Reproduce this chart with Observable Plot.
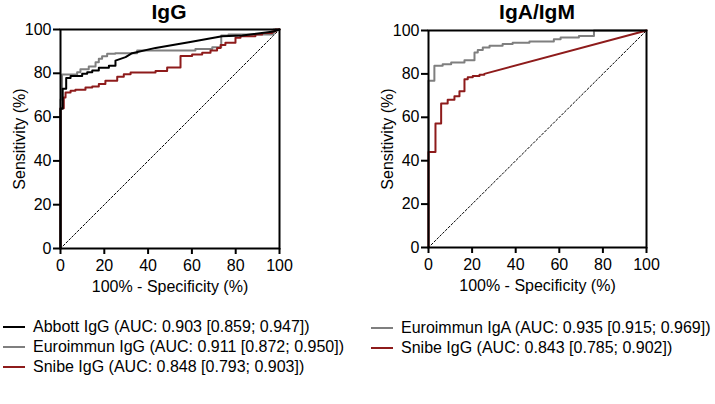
<!DOCTYPE html>
<html><head><meta charset="utf-8">
<script src="https://cdn.jsdelivr.net/npm/d3@7"></script>
<script src="https://cdn.jsdelivr.net/npm/@observablehq/plot@0.6"></script>
<style>
body{margin:0;background:#fff;font-family:"Liberation Sans",Arial,sans-serif;color:#000;}
#root{position:relative;width:715px;height:404px;overflow:hidden;background:#fff;}
.panel{position:absolute;top:0;}
.title{position:absolute;top:0;font-weight:bold;font-size:21px;line-height:24px;transform:translateX(-50%);white-space:nowrap;}
.row{position:absolute;white-space:nowrap;font-size:16px;line-height:18px;display:flex;align-items:center;}
.sw{display:inline-block;width:22px;height:0;border-top:2px solid;margin-right:8px;}
</style></head>
<body><div id="root"></div>
<script>
// ---- data ----
const xTicks = [0, 20, 40, 60, 80, 100];
const yTicks = [0, 20, 40, 60, 80, 100];
const diagX = [0, 100];
const diagY = [0, 100];

// Left panel: IgG
const abbottIgG_x = [0,0,1,1,2.6,2.6,4.6,4.6,9.9,9.9,12.2,12.2,14.5,14.5,17.5,17.5,22.1,22.1,25.1,25.1,29.7,32.7,43.4,58.6,73.8,83,97.3,100];
const abbottIgG_y = [0,63.8,63.8,72.9,72.9,77.9,77.9,78.8,78.8,79.8,79.8,80.5,80.5,81.3,81.3,82.5,82.5,83.5,83.5,85.8,87.4,89.2,91.6,94.2,96.9,97.3,99.1,100];

const euroIgG_x = [0,0,0.7,0.7,7.6,7.6,9.1,9.1,12.9,12.9,16,16,17.5,17.5,19,19,21.3,21.3,25,25,35,35,61.6,61.6,69.3,69.3,73.4,73.4,76.7,76.7,97.3,97.3,100];
const euroIgG_y = [0,68,68,79.4,79.4,80.5,80.5,81.9,81.9,83.1,83.1,85.1,85.1,86.6,86.6,87.8,87.8,88.9,88.9,89.2,89.2,90.4,90.4,91.1,91.1,91.9,91.9,97.3,97.3,97.7,97.7,100,100];

const snibeIgG_x = [0,0,1.5,1.5,2.3,2.3,4.6,4.6,6.8,6.8,11.4,11.4,14.5,14.5,17.5,17.5,20.5,20.5,25.9,25.9,28.9,28.9,32,32,43.4,43.4,48.7,48.7,54.8,54.8,60.1,60.1,64.7,64.7,68.5,68.5,71.5,71.5,73.1,73.1,75.3,75.3,79.9,79.9,82.2,82.2,89,89,92.1,92.1,96.6,96.6,98.2,98.2,100];
const snibeIgG_y = [0,64,64,69,69,71.2,71.2,72,72,72.5,72.5,73.5,73.5,74,74,75.1,75.1,76.6,76.6,78.4,78.4,79.6,79.6,80.4,80.4,81.1,81.1,82.6,82.6,87.9,87.9,88.6,88.6,89.4,89.4,90.4,90.4,91.6,91.6,92.9,92.9,93.9,93.9,96.2,96.2,96.9,96.9,97.7,97.7,98.4,98.4,99.1,99.1,100,100];

// Right panel: IgA/IgM
const euroIgA_x = [0,0,2.7,2.7,6.5,6.5,10.4,10.4,16.5,16.5,21.1,21.1,22.6,22.6,24.9,24.9,28,28,34,34,38.6,38.6,46.3,46.3,57.5,57.5,60.6,60.6,69,69,75.9,75.9,100];
const euroIgA_y = [0,76.9,76.9,83.7,83.7,84.4,84.4,85.2,85.2,86.3,86.3,89.9,89.9,91,91,92.2,92.2,93,93,93.8,93.8,94.4,94.4,94.9,94.9,96,96,96.8,96.8,97.5,97.5,100,100];

const snibeIgM_x = [0,0,3.2,3.2,5.8,5.8,8.8,8.8,11.9,11.9,14.2,14.2,16.5,16.5,18,18,20.3,20.3,23.4,23.4,25.6,25.6,100];
const snibeIgM_y = [0,44,44,57.2,57.2,66.4,66.4,68.1,68.1,69.7,69.7,72,72,77.5,77.5,78.4,78.4,79,79,79.6,79.6,80,100];

const leftLegend = ["Abbott IgG (AUC: 0.903 [0.859; 0.947])", "Euroimmun IgG (AUC: 0.911 [0.872; 0.950])", "Snibe IgG (AUC: 0.848 [0.793; 0.903])"];
const rightLegend = ["Euroimmun IgA (AUC: 0.935 [0.915; 0.969])", "Snibe IgG (AUC: 0.843 [0.785; 0.902])"];
const BLACK = "#000000", GRAY = "#7f7f7f", RED = "#8e1b1b";

const pts = (xs, ys) => xs.map((x, i) => ({x, y: ys[i]}));

function panel(series, m) {
  return Plot.plot({
    width: 357, height: 300,
    marginLeft: m.left, marginRight: m.right, marginTop: m.top, marginBottom: m.bottom,
    x: {domain: [0, 100]},
    y: {domain: [0, 100]},
    style: {fontFamily: '"Liberation Sans", Arial, sans-serif', fontSize: "16px", color: "#000", background: "transparent", overflow: "visible"},
    marks: [
      Plot.line(pts(diagX, diagY), {x: "x", y: "y", stroke: BLACK, strokeWidth: 1, strokeDasharray: "2,2"}),
      ...series.map(s => Plot.line(pts(s.x, s.y), {x: "x", y: "y", stroke: s.color, strokeWidth: 2})),
      Plot.frame({stroke: BLACK, strokeWidth: 2}),
      Plot.axisX({ticks: xTicks, tickSize: 6, tickPadding: 5, strokeWidth: 2, label: "100% - Specificity (%)", labelAnchor: "center", labelArrow: "none", labelOffset: 43}),
      Plot.axisY({ticks: yTicks, tickSize: 7, tickPadding: 2, strokeWidth: 2, label: "Sensitivity (%)", labelAnchor: "center", labelArrow: "none", labelOffset: 47})
    ]
  });
}

const root = document.getElementById("root");
function place(el, left) { el.classList.add("panel"); el.style.left = left + "px"; root.appendChild(el); }

place(panel([
  {x: euroIgG_x, y: euroIgG_y, color: GRAY},
  {x: snibeIgG_x, y: snibeIgG_y, color: RED},
  {x: abbottIgG_x, y: abbottIgG_y, color: BLACK}
], {left: 60, right: 78, top: 29, bottom: 52}), 0);

place(panel([
  {x: euroIgA_x, y: euroIgA_y, color: GRAY},
  {x: snibeIgM_x, y: snibeIgM_y, color: RED}
], {left: 70, right: 69, top: 30, bottom: 53}), 358);

function title(text, cx) {
  const d = document.createElement("div");
  d.className = "title"; d.textContent = text; d.style.left = cx + "px";
  root.appendChild(d);
}
title("IgG", 169);
title("IgA/IgM", 537);

function legend(items, colors, left, top0) {
  items.forEach((t, i) => {
    const r = document.createElement("div");
    r.className = "row";
    r.style.left = left + "px";
    r.style.top = (top0 + i * 20 - 9) + "px";
    const sw = document.createElement("span");
    sw.className = "sw"; sw.style.borderColor = colors[i];
    r.appendChild(sw);
    r.appendChild(document.createTextNode(t));
    root.appendChild(r);
  });
}
legend(leftLegend, [BLACK, GRAY, RED], 3, 327);
legend(rightLegend, [GRAY, RED], 371, 328);
</script>
</body></html>
